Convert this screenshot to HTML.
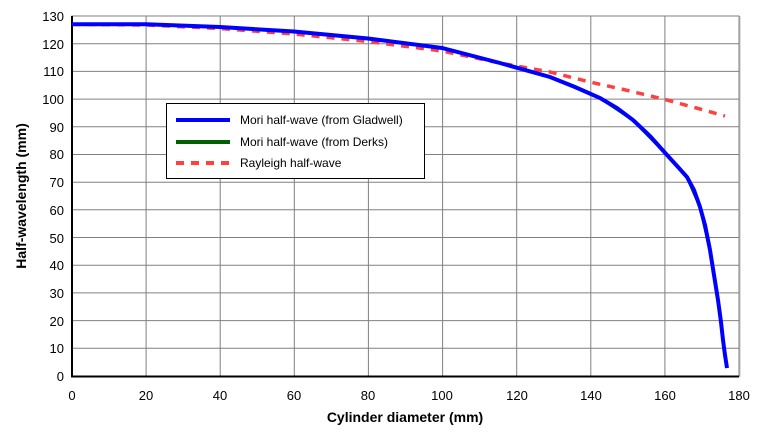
<!DOCTYPE html>
<html><head><style>body{margin:0;background:#fff}</style></head><body>
<svg width="768" height="432" xmlns="http://www.w3.org/2000/svg" font-family="Liberation Sans, Arial, sans-serif">
<rect width="768" height="432" fill="#fff"/>
<g stroke="#808080" stroke-width="1">
<line x1="146.1" y1="16" x2="146.1" y2="376"/><line x1="220.2" y1="16" x2="220.2" y2="376"/><line x1="294.3" y1="16" x2="294.3" y2="376"/><line x1="368.4" y1="16" x2="368.4" y2="376"/><line x1="442.6" y1="16" x2="442.6" y2="376"/><line x1="516.7" y1="16" x2="516.7" y2="376"/><line x1="590.8" y1="16" x2="590.8" y2="376"/><line x1="664.9" y1="16" x2="664.9" y2="376"/>
<line x1="72" y1="43.7" x2="739" y2="43.7"/><line x1="72" y1="71.4" x2="739" y2="71.4"/><line x1="72" y1="99.1" x2="739" y2="99.1"/><line x1="72" y1="126.8" x2="739" y2="126.8"/><line x1="72" y1="154.5" x2="739" y2="154.5"/><line x1="72" y1="182.2" x2="739" y2="182.2"/><line x1="72" y1="209.8" x2="739" y2="209.8"/><line x1="72" y1="237.5" x2="739" y2="237.5"/><line x1="72" y1="265.2" x2="739" y2="265.2"/><line x1="72" y1="292.9" x2="739" y2="292.9"/><line x1="72" y1="320.6" x2="739" y2="320.6"/><line x1="72" y1="348.3" x2="739" y2="348.3"/>
</g>
<rect x="72" y="16" width="667" height="360" fill="none" stroke="#808080"/>
<line x1="72" y1="16" x2="72" y2="377" stroke="#000" stroke-width="2"/>
<line x1="71" y1="376.5" x2="739" y2="376.5" stroke="#000" stroke-width="2"/>
<line x1="740" y1="16" x2="740" y2="377" stroke="#c0c0c0"/>
<g font-size="13" fill="#000" text-anchor="end">
<text x="64" y="21">130</text><text x="64" y="49">120</text><text x="64" y="76">110</text><text x="64" y="104">100</text><text x="64" y="132">90</text><text x="64" y="159">80</text><text x="64" y="187">70</text><text x="64" y="215">60</text><text x="64" y="243">50</text><text x="64" y="270">40</text><text x="64" y="298">30</text><text x="64" y="326">20</text><text x="64" y="353">10</text><text x="64" y="381">0</text>
</g>
<g font-size="13" fill="#000" text-anchor="middle">
<text x="72" y="400">0</text><text x="146" y="400">20</text><text x="220" y="400">40</text><text x="294" y="400">60</text><text x="368" y="400">80</text><text x="442" y="400">100</text><text x="517" y="400">120</text><text x="591" y="400">140</text><text x="665" y="400">160</text><text x="739" y="400">180</text>
</g>
<text x="405" y="422" font-size="14" font-weight="bold" text-anchor="middle">Cylinder diameter (mm)</text>
<text transform="translate(26,196) rotate(-90)" font-size="14" font-weight="bold" text-anchor="middle">Half-wavelength (mm)</text>
<polyline fill="none" stroke="#ff4040" stroke-width="3.5" stroke-dasharray="8,7" points="72,24.3 146,25 220,28.5 294,34 368,41.5 442,51 500,63 550,72 590,82 630,91 667,100 700,109 725,116"/>
<polyline fill="none" stroke="#006000" stroke-width="3" points="72,24.3 146,24.3 220,27 294,31.5 368,38.5 442,48 500,63 550,77 600,98 633,120 667,155 687,177 700,207 710,250 718,300 723,340 727,368"/>
<polyline fill="none" stroke="#0000ff" stroke-width="4" points="72,24.3 146,24.3 220,27 294,31.5 368,38.5 442,48 500,63 550,77 575,87 600,98 617,108 633,120 650,136 667,155 678,167 687,177 694,190 700,207 705,225 710,250 714,275 718,300 721,322 723,340 725,355 727,368"/>
<rect x="166.5" y="103.5" width="258" height="75" fill="#fff" stroke="#000"/>
<line x1="176" y1="120" x2="230" y2="120" stroke="#0000ff" stroke-width="4"/>
<line x1="176" y1="142" x2="230" y2="142" stroke="#006000" stroke-width="4"/>
<line x1="176" y1="163" x2="230" y2="163" stroke="#ff4040" stroke-width="4" stroke-dasharray="8,7"/>
<g font-size="12" fill="#000">
<text x="240" y="124">Mori half-wave (from Gladwell)</text>
<text x="240" y="146">Mori half-wave (from Derks)</text>
<text x="240" y="167">Rayleigh half-wave</text>
</g>
</svg>
</body></html>
